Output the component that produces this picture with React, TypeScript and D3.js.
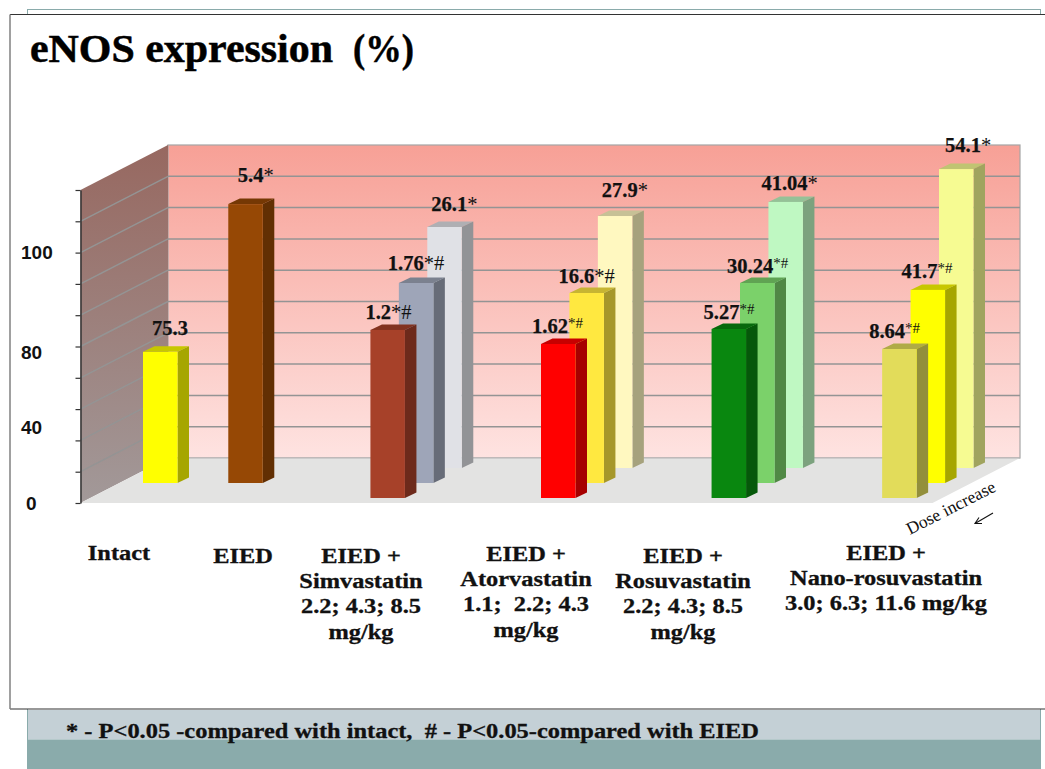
// eNOS expression slide, a fake 3D column chart with three depth rows
import React, { useEffect, useRef } from 'react';
import * as d3 from 'd3';

const WIDTH = 1045;
const HEIGHT = 769;

// bar data (height is in grid units, the printed label is something else)
const barSlots = [0, 3, 10, 9, 8, 16, 15, 14, 22, 21, 20, 28, 27, 26];
const barRows = [1, 1, 2, 1, 0, 2, 1, 0, 2, 1, 0, 2, 1, 0];
const barHeights = [41.9, 89.1, 77, 63.9, 53.7, 80.5, 60.7, 49.2, 85, 63.9, 54, 95.5, 61.7, 47.6];
const barValues = ['75.3', '5.4', '26.1', '1.76', '1.2', '27.9', '16.6', '1.62', '41.04', '30.24', '5.27', '54.1', '41.7', '8.64'];
const barMarks = ['', '*', '*', '*#', '*#', '*', '*#', '*#', '*', '*#', '*#', '*', '*#', '*#'];
const barColors = [
  '#ffff00', '#964805',
  '#e0e1e6', '#9ea5b8', '#a74129',
  '#fff8c0', '#ffe840', '#ff0000',
  '#bff8c2', '#7bd16a', '#09870f',
  '#f6fb92', '#ffff00', '#e2dc5a',
];
// small superscript marks on some of the labels
const barMarkSmall = [false, false, false, false, false, false, false, true, false, true, true, false, true, true];

const gridTicks = d3.range(0, 101, 10);
const yLabels = ['0', '40', '80', '100'];
const yLabelLevels = [0, 24.3, 48.3, 80];

const categoryLines = [
  ['Intact'],
  ['EIED'],
  ['EIED +', 'Simvastatin', '2.2; 4.3; 8.5', 'mg/kg'],
  ['EIED +', 'Atorvastatin', '1.1;  2.2; 4.3', 'mg/kg'],
  ['EIED +', 'Rosuvastatin', '2.2; 4.3; 8.5', 'mg/kg'],
  ['EIED +', 'Nano-rosuvastatin', '3.0; 6.3; 11.6 mg/kg'],
];

// layout, not data
const labelDx = [9, 9.5, 4, -11, -5, 4, -11, -9, -7, -13, -8, 6, -9, -13];
const labelDy = [17, 22, 16, 13, 11, 19, 10, 11, 12, 10, 10, 17, 12, 11];
const categoryX = [119, 243, 361, 526, 683, 886];
const categoryY = [560, 563, 563, 561, 563, 560];

const FRONT_X = 80.5;
const WALL_DX = 87.5;
const WALL_DY = 45;
const BAR_W = 34.5;
const BAR_DX = 11.5;
const BAR_DY = 5.5;
const RIGHT_X = 1020;

const y = d3.scaleLinear().domain([0, 100]).range([503, 190]);
const slotX = d3.scaleLinear().domain([0, 28]).range([143, 939]);
const rowBase = d3.scaleLinear().domain([0, 2]).range([498, 468]);

const serif = '"Liberation Serif", serif';
const sans = '"Liberation Sans", sans-serif';

const bars = barSlots
  .map((slot, i) => ({
    i,
    x: slotX(slot),
    base: rowBase(barRows[i]),
    top: rowBase(barRows[i]) - (y(0) - y(barHeights[i])),
    row: barRows[i],
    fill: barColors[i],
    side: d3.rgb(barColors[i]).darker(1.2).formatHex(),
    cap: d3.rgb(barColors[i]).darker(0.7).formatHex(),
  }))
  .sort((a, b) => b.row - a.row);

const pts = (p: number[][]) => p.map((d) => d.join(',')).join(' ');

export default function App() {
  const axisRef = useRef<SVGGElement>(null);

  useEffect(() => {
    const axis = d3.axisLeft(y).tickValues(gridTicks).tickSize(5).tickSizeOuter(0).tickFormat(() => '');
    const g = d3.select(axisRef.current).call(axis as any);
    g.select('.domain').attr('stroke', '#333').attr('stroke-width', 1.5);
    g.selectAll('.tick line').attr('stroke', '#333').attr('stroke-width', 1.2);
  }, []);

  const backX = FRONT_X + WALL_DX;
  const backTop = y(100) - WALL_DY;
  const backBottom = y(0) - WALL_DY;

  return (
    <svg width={WIDTH} height={HEIGHT} style={{ position: 'absolute', left: 0, top: 0, display: 'block' }}>
      <defs>
        <linearGradient id="backWall" x1="0" y1="0" x2="0" y2="1">
          <stop offset="0" stopColor="#f7a096" />
          <stop offset="1" stopColor="#fee3e1" />
        </linearGradient>
        <linearGradient id="sideWall" x1="0" y1="0" x2="0" y2="1">
          <stop offset="0" stopColor="#976860" />
          <stop offset="1" stopColor="#a29999" />
        </linearGradient>
      </defs>

      {/* slide behind the white box */}
      <rect x={27.5} y={9.5} width={1013} height={760} fill="#ffffff" stroke="#8aabab" strokeWidth={1} />
      <rect x={28} y={710} width={1012} height={29.5} fill="#c4d0d6" />
      <rect x={28} y={739.5} width={1012} height={30} fill="#8aabab" />
      <rect x={10} y={14.5} width={1045} height={694.5} fill="#ffffff" stroke="none" />
      <line x1={10} x2={WIDTH} y1={14.5} y2={14.5} stroke="#333" strokeWidth={1.2} />
      <line x1={10} x2={WIDTH} y1={709} y2={709} stroke="#333" strokeWidth={1.2} />
      <line x1={10} x2={10} y1={14.5} y2={709} stroke="#808080" strokeWidth={1.5} />

      <g fontFamily={serif} fontWeight="bold" fontSize={39} stroke="#000" strokeWidth={0.5}>
        <text x={30} y={62} textLength={303} lengthAdjust="spacingAndGlyphs">eNOS expression</text>
        <text x={353} y={62} textLength={61} lengthAdjust="spacingAndGlyphs">(%)</text>
      </g>

      {/* walls and floor */}
      <rect x={backX} y={backTop} width={RIGHT_X - backX} height={backBottom - backTop} fill="url(#backWall)" stroke="#a5a5a5" strokeWidth={1.2} />
      <polygon
        points={pts([[FRONT_X, y(0)], [FRONT_X, y(100)], [backX, backTop], [backX, backBottom]])}
        fill="url(#sideWall)"
      />
      <polygon
        points={pts([[FRONT_X, y(0)], [backX, backBottom], [RIGHT_X, backBottom], [RIGHT_X - WALL_DX, y(0)]])}
        fill="#e3e3e2"
      />
      {gridTicks.slice(1, -1).map((t) => (
        <g key={t} stroke="#949494" strokeWidth={1.5} fill="none">
          <line x1={FRONT_X} y1={y(t)} x2={backX} y2={y(t) - WALL_DY} />
          <line x1={backX} y1={y(t) - WALL_DY} x2={RIGHT_X} y2={y(t) - WALL_DY} />
        </g>
      ))}
      <line x1={backX} y1={backBottom} x2={RIGHT_X} y2={backBottom} stroke="#b5b5b5" strokeWidth={1} />

      <g ref={axisRef} transform={`translate(${FRONT_X},0)`} />

      {yLabels.map((t, i) => (
        <text key={t} x={t === '0' ? 26 : 21} y={y(yLabelLevels[i])} dy="0.36em" fontFamily={sans} fontWeight="bold" fontSize={19} fill="#111">
          {t}
        </text>
      ))}

      {/* bars, back row first */}
      {bars.map((b) => (
        <g key={b.i}>
          <polygon
            points={pts([[b.x, b.top], [b.x + BAR_DX, b.top - BAR_DY], [b.x + BAR_W + BAR_DX, b.top - BAR_DY], [b.x + BAR_W, b.top]])}
            fill={b.cap}
          />
          <polygon
            points={pts([[b.x + BAR_W, b.top], [b.x + BAR_W + BAR_DX, b.top - BAR_DY], [b.x + BAR_W + BAR_DX, b.base - BAR_DY], [b.x + BAR_W, b.base]])}
            fill={b.side}
          />
          <rect x={b.x} y={b.top} width={BAR_W} height={b.base - b.top} fill={b.fill} />
        </g>
      ))}

      {/* value labels go on top of every bar */}
      {bars.map((b) => (
        <text key={b.i} x={b.x + labelDx[b.i]} y={b.top - labelDy[b.i]} fontFamily={serif} fontWeight="bold" fontSize={20.5} fill="#111" stroke="#111" strokeWidth={0.25}>
          {barValues[b.i]}
          {barMarks[b.i] && (
            <tspan fontSize={barMarkSmall[b.i] ? 15 : 20.5} fontWeight="normal" dy={barMarkSmall[b.i] ? -5 : 0} strokeWidth={0}>
              {barMarks[b.i]}
            </tspan>
          )}
        </text>
      ))}

      {categoryLines.map((lines, c) => (
        <g key={c}>
          {lines.map((line, j) => (
            <text
              key={j}
              transform={`translate(${categoryX[c]},${categoryY[c] + j * 25.2}) scale(1.22,1)`}
              textAnchor="middle"
              fontFamily={serif}
              fontWeight="bold"
              fontSize={20}
              fill="#111"
              stroke="#111"
              strokeWidth={0.3}
              style={{ whiteSpace: 'pre' }}
            >
              {line}
            </text>
          ))}
        </g>
      ))}

      {/* dose note */}
      <text transform="translate(910,535) rotate(-27)" fontFamily={serif} fontSize={17.5} fill="#111">
        Dose increase
      </text>
      <g stroke="#111" strokeWidth={1.1} fill="none">
        <line x1={993} y1={513} x2={975} y2={523.5} />
        <polyline points="982,523.5 975,523.5 979,517.5" />
      </g>

      <text x={66} y={738} fontFamily={serif} fontWeight="bold" fontSize={20} fill="#111" stroke="#111" strokeWidth={0.3} textLength={693} lengthAdjust="spacingAndGlyphs" style={{ whiteSpace: 'pre' }}>
        * - P&lt;0.05 -compared with intact,  # - P&lt;0.05-compared with EIED
      </text>
    </svg>
  );
}
